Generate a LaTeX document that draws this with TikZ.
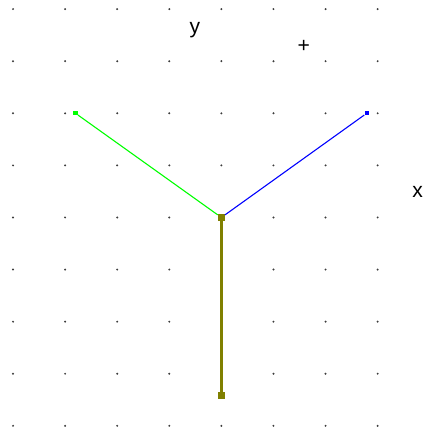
\documentclass[tikz,border=0pt]{standalone}
\usepackage{fontspec}
\setmainfont{Liberation Sans}
\usetikzlibrary{positioning}
\definecolor{axisGreen}{RGB}{0,255,0}
\definecolor{axisBlue}{RGB}{0,0,255}
\definecolor{axisOlive}{RGB}{128,128,0}
\definecolor{dotGray}{RGB}{60,60,60}

\begin{document}
\begin{tikzpicture}[line cap=butt,line join=miter,
  knob/.style={rectangle,inner sep=0pt,minimum size=#1},
  axislabel/.style={font=\fontsize{11.5}{13}\selectfont,inner sep=0pt}]
  \useasboundingbox (-4.25,-4.08) rectangle (3.91,4.175);
  % dotted grid
  \foreach \i in {-4,...,3}
    \foreach \j in {-4,...,4}
      \fill[dotGray] (\i,\j) circle (0.6pt);
  % end points
  \node[knob=3.6pt,fill=axisOlive] (O) at (0,0) {};
  \node[knob=2.3pt,fill=axisGreen] (G) at (-2.80,2.00) {};
  \node[knob=2.3pt,fill=axisBlue] (B) at (2.79,2.00) {};
  \node[knob=3.6pt,fill=axisOlive] (D) at (0,-3.42) {};
  % axes
  \draw[axisGreen,line width=0.6pt] (G) -- (O);
  \draw[axisBlue,line width=0.6pt] (B) -- (O);
  \draw[axisOlive,line width=1.4pt] (O) -- (D);
  % labels
  \node[axislabel] (ylab) at (-0.51,3.60) {y};
  \node[axislabel] (plus) at (1.58,3.28) {+};
  \node[axislabel] (xlab) at (3.77,0.49) {x};
\end{tikzpicture}
\end{document}
